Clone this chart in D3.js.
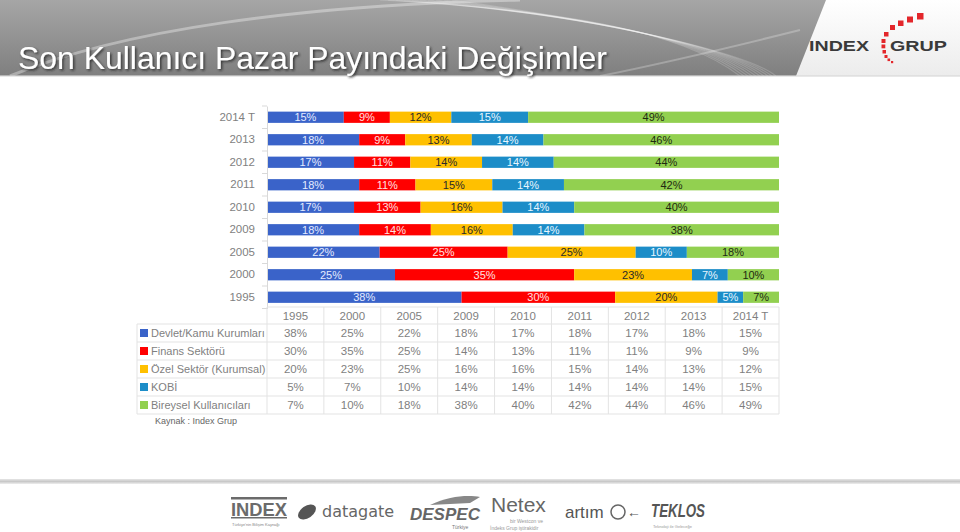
<!DOCTYPE html>
<html><head><meta charset="utf-8">
<script src="https://cdn.jsdelivr.net/npm/d3@7"></script>
<style>
html,body{margin:0;padding:0;background:#fff;}
svg{display:block;font-family:"Liberation Sans",Arial,sans-serif;}
</style></head>
<body>
<svg id="c" width="960" height="532"></svg>
<script>
const categories = ["1995","2000","2005","2009","2010","2011","2012","2013","2014 T"];
const seriesNames = ["Devlet/Kamu Kurumları","Finans Sektörü","Özel Sektör (Kurumsal)","KOBİ","Bireysel Kullanıcıları"];
const devlet   = [38,25,22,18,17,18,17,18,15];
const finans   = [30,35,25,14,13,11,11,9,9];
const ozel     = [20,23,25,16,16,15,14,13,12];
const kobi     = [5,7,10,14,14,14,14,14,15];
const bireysel = [7,10,18,38,40,42,44,46,49];
const seriesValues = [devlet,finans,ozel,kobi,bireysel];
const colors = ["#3a63c9","#ff0000","#ffc000","#1c8dc8","#92d050"];
const labelColors = ["#e4ebff","#ffe0e0","#2a2a2a","#e8f6ff","#1f2a10"];

const svg = d3.select("#c");
const defs = svg.append("defs");

// ---- header ----
const hg = defs.append("linearGradient").attr("id","hg").attr("x1",0).attr("y1",0).attr("x2",0).attr("y2",1);
hg.append("stop").attr("offset","0%").attr("stop-color","#a6a6a6");
hg.append("stop").attr("offset","100%").attr("stop-color","#7f7f7f");
const wg = defs.append("linearGradient").attr("id","wg").attr("x1",0).attr("y1",0).attr("x2",0).attr("y2",1);
wg.append("stop").attr("offset","0%").attr("stop-color","#ffffff");
wg.append("stop").attr("offset","100%").attr("stop-color","#ececec");
const fg = defs.append("linearGradient").attr("id","fg").attr("x1",0).attr("y1",0).attr("x2",0).attr("y2",1);
fg.append("stop").attr("offset","0%").attr("stop-color","#e6e6e6");
fg.append("stop").attr("offset","50%").attr("stop-color","#c8c8c8");
fg.append("stop").attr("offset","100%").attr("stop-color","#eeeeee");
const sh = defs.append("filter").attr("id","sh").attr("x","-5%").attr("y","-20%").attr("width","110%").attr("height","150%");
sh.append("feDropShadow").attr("dx",1.5).attr("dy",1.5).attr("stdDeviation",1).attr("flood-color","#222").attr("flood-opacity",0.8);

svg.append("rect").attr("x",0).attr("y",0).attr("width",960).attr("height",76).attr("fill","url(#wg)");
svg.append("path").attr("d","M0,0 L826,0 L796,76 L0,76 Z").attr("fill","url(#hg)");
// swoosh lines
const sw = svg.append("g").attr("fill","none").attr("stroke","#ffffff");
sw.append("path").attr("d","M10,76 C120,30 300,5 520,0").attr("stroke-opacity",0.35).attr("stroke-width",3);
for(let i=0;i<10;i++){
  sw.append("path").attr("d",`M${380+i*8},0 C${560+i*10},${10+i*2} ${680+i*8},${30+i*3} ${740+i*4},${76}`)
    .attr("stroke-opacity",0.18).attr("stroke-width",1.2);
}
sw.append("path").attr("d","M600,76 C680,60 760,40 800,30").attr("stroke-opacity",0.25).attr("stroke-width",2);
svg.append("rect").attr("x",0).attr("y",75).attr("width",960).attr("height",2).attr("fill","#d9d9d9").attr("opacity",0.6);

svg.append("text").attr("x",18).attr("y",69).attr("fill","#ffffff").attr("font-size",32)
  .attr("textLength",589).attr("lengthAdjust","spacingAndGlyphs").attr("filter","url(#sh)")
  .text("Son Kullanıcı Pazar Payındaki Değişimler");

// logo
const lg = svg.append("g");
lg.append("text").attr("x",809).attr("y",51).attr("font-size",15).attr("font-weight","bold").attr("fill","#3a3a3a")
  .attr("textLength",60).attr("lengthAdjust","spacingAndGlyphs").text("INDEX");
lg.append("text").attr("x",890).attr("y",51).attr("font-size",15).attr("font-weight","bold").attr("fill","#3a3a3a")
  .attr("textLength",57).attr("lengthAdjust","spacingAndGlyphs").text("GRUP");
const sq = [[917,13,6.5],[907,16.5,6],[898,20.5,5.5],[890,25,5],[884,32,4.5],[881.5,39,4],[881.5,44.5,3.8],[882.5,50,3.5],[884.5,55,3],[887.5,58.5,2.6],[891,61,2.2]];
lg.selectAll("rect").data(sq).join("rect").attr("x",d=>d[0]).attr("y",d=>d[1]).attr("width",d=>d[2]).attr("height",d=>d[2]).attr("fill","#e3262b");

// ---- chart ----
const x = d3.scaleLinear().domain([0,100]).range([267,779]);
const y = d3.scaleBand().domain(categories.slice().reverse()).range([106,308.5]).paddingInner(0.5).paddingOuter(0.25);
const rows = categories.map((c,i)=>{
  let acc=0;
  return seriesValues.map((s,k)=>{const o={cat:c,k,v:s[i],x0:acc,x1:acc+s[i]};acc+=s[i];return o;});
}).flat();

const g = svg.append("g");
g.selectAll("rect.bar").data(rows).join("rect").attr("class","bar")
  .attr("x",d=>x(d.x0)).attr("width",d=>x(d.x1)-x(d.x0))
  .attr("y",d=>y(d.cat)).attr("height",y.bandwidth())
  .attr("fill",d=>colors[d.k]);
g.selectAll("text.lbl").data(rows).join("text").attr("class","lbl")
  .attr("x",d=>(x(d.x0)+x(d.x1))/2).attr("y",d=>y(d.cat)+y.bandwidth()/2)
  .attr("dy","0.36em").attr("text-anchor","middle").attr("font-size",11)
  .attr("fill",d=>labelColors[d.k]).text(d=>d.v+"%");

// axis
const ax = svg.append("g").attr("transform","translate(267,0)")
  .call(d3.axisLeft(y).tickSize(0).tickPadding(12));
ax.select(".domain").attr("stroke","#d9d9d9");
ax.selectAll("text").attr("font-size",11.5).attr("fill","#7f7f7f").attr("font-family","Liberation Sans,Arial,sans-serif");
const step = y.step();
const bnds = d3.range(categories.length+1).map(i=>106+i*step);
svg.append("g").selectAll("line").data(bnds).join("line")
  .attr("x1",262).attr("x2",267).attr("y1",d=>d).attr("y2",d=>d).attr("stroke","#d9d9d9");

// ---- table ----
const tx0 = 137;
const cx = d3.scaleBand().domain(categories).range([267,779]);
const headTop = 307, rowH = 18;
const t = svg.append("g");
const lineC = "#e3e3e3";
t.append("line").attr("x1",267).attr("x2",779).attr("y1",headTop).attr("y2",headTop).attr("stroke",lineC);
for(let r=0;r<=seriesNames.length;r++){
  const yy = headTop+17+r*rowH;
  t.append("line").attr("x1",tx0).attr("x2",779).attr("y1",yy).attr("y2",yy).attr("stroke",lineC);
}
const tBottom = headTop+17+seriesNames.length*rowH;
t.append("line").attr("x1",tx0).attr("x2",tx0).attr("y1",headTop+17).attr("y2",tBottom).attr("stroke",lineC);
categories.forEach(c=>{
  t.append("line").attr("x1",cx(c)).attr("x2",cx(c)).attr("y1",headTop).attr("y2",tBottom).attr("stroke",lineC);
});
t.append("line").attr("x1",779).attr("x2",779).attr("y1",headTop).attr("y2",tBottom).attr("stroke",lineC);

t.selectAll("text.hd").data(categories).join("text").attr("class","hd")
  .attr("x",d=>cx(d)+cx.bandwidth()/2).attr("y",headTop+8.5).attr("dy","0.36em")
  .attr("text-anchor","middle").attr("font-size",11.5).attr("fill","#7f7f7f").text(d=>d);

seriesNames.forEach((n,k)=>{
  const yc = headTop+17+k*rowH+rowH/2;
  t.append("rect").attr("x",140).attr("y",yc-4).attr("width",8).attr("height",8).attr("fill",colors[k]);
  t.append("text").attr("x",151).attr("y",yc).attr("dy","0.36em").attr("font-size",11).attr("fill","#7f7f7f").text(n);
  t.selectAll("text.v"+k).data(seriesValues[k]).join("text").attr("class","v"+k)
    .attr("x",(d,i)=>cx(categories[i])+cx.bandwidth()/2).attr("y",yc).attr("dy","0.36em")
    .attr("text-anchor","middle").attr("font-size",11.5).attr("fill","#7f7f7f").text(d=>d+"%");
});

svg.append("text").attr("x",155).attr("y",424).attr("font-size",9).attr("fill","#666").text("Kaynak : Index Grup");

// ---- footer ----
svg.append("rect").attr("x",0).attr("y",479).attr("width",960).attr("height",5).attr("fill","url(#fg)");
const f = svg.append("g").attr("fill","#6b6b6b");
f.append("rect").attr("x",231).attr("y",497).attr("width",56).attr("height",2.5);
f.append("rect").attr("x",231).attr("y",517).attr("width",56).attr("height",1.5);
f.append("text").attr("x",231).attr("y",516).attr("font-size",19).attr("font-weight","bold").attr("textLength",56).attr("lengthAdjust","spacingAndGlyphs").text("INDEX");
f.append("text").attr("x",232).attr("y",526).attr("font-size",4).attr("fill","#888").text("Türkiye'nin Bilişim Kaynağı");
f.append("ellipse").attr("cx",307).attr("cy",512).attr("rx",10).attr("ry",6).attr("transform","rotate(-35 307 512)").attr("fill","#555");
f.append("text").attr("x",322).attr("y",517).attr("font-size",16).attr("font-family","DejaVu Sans").attr("fill","#666").text("datagate");
f.append("text").attr("x",410).attr("y",520).attr("font-size",17).attr("font-weight","bold").attr("font-style","italic").attr("fill","#666").text("DESPEC");
f.append("path").attr("d","M430,505 C450,495 470,495 480,497 L470,503 Z").attr("fill","#888");
f.append("text").attr("x",452).attr("y",529).attr("font-size",5).attr("fill","#777").text("Türkiye");
f.append("text").attr("x",491).attr("y",512).attr("font-size",21).attr("fill","#666").text("Netex");
f.append("text").attr("x",510).attr("y",523).attr("font-size",5).attr("fill","#999").text("bir Westcon ve");
f.append("text").attr("x",490).attr("y",530).attr("font-size",5).attr("fill","#999").text("İndeks Grup iştirakidir");
f.append("text").attr("x",565).attr("y",518).attr("font-size",17).attr("fill","#555").text("artım");
f.append("circle").attr("cx",618).attr("cy",512).attr("r",7).attr("fill","none").attr("stroke","#666").attr("stroke-width",1.5);
f.append("text").attr("x",627).attr("y",517).attr("font-size",14).attr("fill","#555").text("←");
f.append("text").attr("x",651).attr("y",517).attr("font-size",19).attr("font-weight","bold").attr("font-style","italic").attr("fill","#555").attr("textLength",54).attr("lengthAdjust","spacingAndGlyphs").text("TEKLOS");
f.append("text").attr("x",653).attr("y",528).attr("font-size",4).attr("fill","#999").text("Teknoloji ile Geleceğe");
</script>
</body></html>
